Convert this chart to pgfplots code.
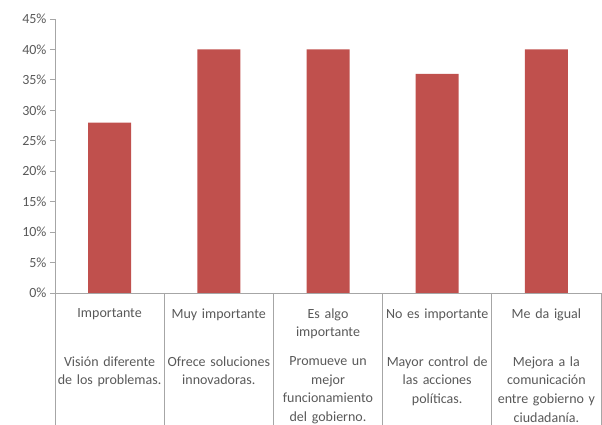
\documentclass[border=0pt]{standalone}
\usepackage{pgfplots}
\pgfplotsset{compat=1.18}
\usepackage{fontspec}
\setmainfont{Carlito}
\definecolor{barred}{HTML}{C0504D}
\definecolor{txt}{HTML}{595959}
\definecolor{axg}{HTML}{A6A6A6}
\newcommand{\lab}[2]{\parbox[t][47bp][t]{108bp}{\centering #1}\par #2}
\begin{document}
\begin{tikzpicture}
\begin{axis}[
  scale only axis,
  width=546bp, height=274bp,
  xmin=-0.5, xmax=4.5,
  ymin=0, ymax=45,
  axis x line*=bottom, axis y line*=left,
  axis line style={axg, line width=0.8pt},
  ytick={0,5,...,45},
  yticklabel={\pgfmathprintnumber{\tick}\%},
  /pgf/number format/assume math mode=true,
  tick align=outside,
  major tick length=5bp,
  ytick style={axg, line width=0.8pt},
  xtick style={draw=none},
  xtick={0,1,2,3,4},
  xticklabels={
    {\lab{Importante}{Visión diferente\\de los problemas.}},
    {\lab{Muy importante}{Ofrece soluciones\\innovadoras.}},
    {\lab{Es algo\\importante}{Promueve un\\mejor\\funcionamiento\\del gobierno.}},
    {\lab{No es importante}{Mayor control de\\las acciones\\políticas.}},
    {\lab{Me da igual}{Mejora a la\\comunicación\\entre gobierno y\\ciudadanía.}}
  },
  xticklabel style={text width=108bp, inner xsep=0pt, align=center, anchor=north, yshift=-7bp,
    font=\fontsize{14bp}{18.7bp}\selectfont, text=txt},
  yticklabel style={font=\fontsize{14bp}{16bp}\selectfont, text=txt},
  clip=false,
]
\addplot[ybar, bar width=43bp, fill=barred, draw=none] coordinates {
  (0,28) (1,40) (2,40) (3,36) (4,40)
};
\pgfplotsinvokeforeach{-0.5,0.5,1.5,2.5,3.5,4.5}{
  \draw[axg, line width=0.8pt] (axis cs:#1,0) -- ([yshift=-132bp]axis cs:#1,0);
}
\end{axis}
\pgfresetboundingbox
\path ([xshift=-55bp,yshift=-132bp]current axis.south west) rectangle ([xshift=1bp,yshift=19bp]current axis.north east);
\end{tikzpicture}
\end{document}
